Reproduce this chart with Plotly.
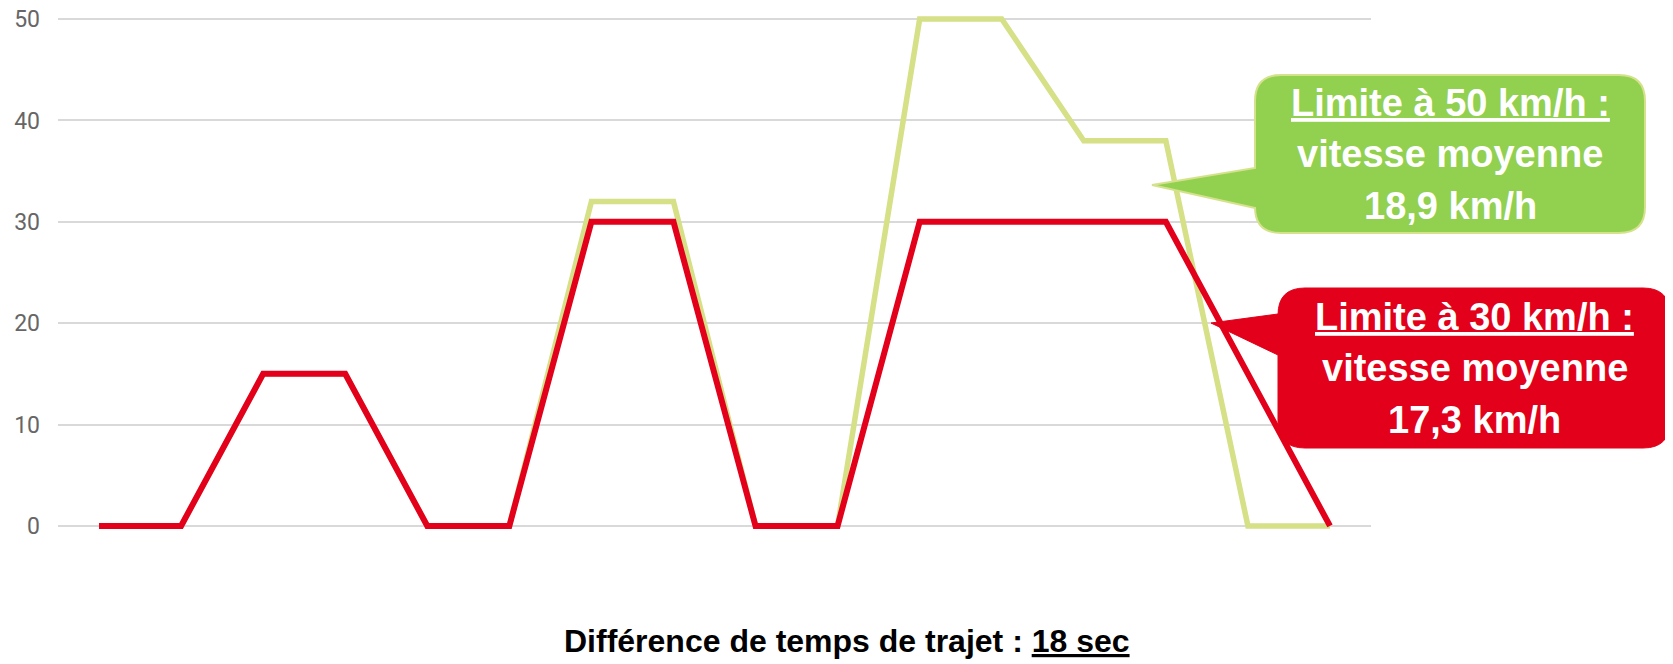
import plotly.graph_objects as go

# ---- data ----
etapes = [str(i) for i in range(1, 17)]
vitesse_50 = [0, 0, 15, 15, 0, 0, 32, 32, 0, 0, 50, 50, 38, 38, 0, 0]
vitesse_30 = [0, 0, 15, 15, 0, 0, 30, 30, 0, 0, 30, 30, 30, 30, 15, 0]
y_ticks = [0, 10, 20, 30, 40, 50]

lignes_50 = ["<u>Limite à 50 km/h :</u>", "vitesse moyenne", "18,9 km/h"]
lignes_30 = ["<u>Limite à 30 km/h :</u>", "vitesse moyenne", "17,3 km/h"]
texte_bas = "Différence de temps de trajet : <u>18 sec</u>"

# ---- layout geometry ----
# positions below are given in window pixels; the page body has an 8 px margin
W, H = 1673, 664
OFF = 8
PX0, PX1 = 58, 1371      # plot area in window pixels
PY0, PY1 = 14, 531
ML, MT = PX0 - OFF, PY0 - OFF
MR, MB = W - (PX1 - OFF), H - (PY1 - OFF)


def px(x):
    return (x - PX0) / (PX1 - PX0)


def py(y):
    return (PY1 - y) / (PY1 - PY0)


def callout_path(x0, y0, x1, y1, r, pb0, tip, pb1):
    # rounded rectangle with a pointer on its left edge
    path = f"M {px(x0 + r)},{py(y0)} L {px(x1 - r)},{py(y0)} "
    path += f"Q {px(x1)},{py(y0)} {px(x1)},{py(y0 + r)} "
    path += f"L {px(x1)},{py(y1 - r)} Q {px(x1)},{py(y1)} {px(x1 - r)},{py(y1)} "
    path += f"L {px(x0 + r)},{py(y1)} Q {px(x0)},{py(y1)} {px(x0)},{py(y1 - r)} "
    path += f"L {px(x0)},{py(pb1)} L {px(tip[0])},{py(tip[1])} L {px(x0)},{py(pb0)} "
    path += f"L {px(x0)},{py(y0 + r)} Q {px(x0)},{py(y0)} {px(x0 + r)},{py(y0)} Z"
    return path


fig = go.Figure()
fig.add_trace(go.Scatter(
    x=etapes, y=vitesse_50, mode="lines",
    line=dict(color="#D5E087", width=5.5), name="50 km/h",
))
fig.add_trace(go.Scatter(
    x=etapes, y=vitesse_30, mode="lines",
    line=dict(color="#E2001A", width=6), name="30 km/h",
))

fig.add_shape(type="path", xref="paper", yref="paper", layer="above",
              path=callout_path(1255, 75, 1645, 233, 26, 168, (1152, 185), 208),
              fillcolor="#92D050", line=dict(color="#D5E28C", width=2))
fig.add_shape(type="path", xref="paper", yref="paper", layer="above",
              path=callout_path(1278, 288, 1670, 448, 27, 314, (1211, 323), 355),
              fillcolor="#E2001A", line=dict(color="#E2001A", width=1))

callout_font = dict(family="Liberation Sans, Arial", size=38, color="white",
                    weight="bold")
for i, t in enumerate(lignes_50):
    fig.add_annotation(xref="paper", yref="paper", x=px(1450),
                       y=py(102.5 + 51.7 * i), xanchor="center", yanchor="middle",
                       showarrow=False, text=t, font=callout_font)
for i, t in enumerate(lignes_30):
    fig.add_annotation(xref="paper", yref="paper", x=px(1474.5),
                       y=py(316.7 + 51.7 * i), xanchor="center", yanchor="middle",
                       showarrow=False, text=t, font=callout_font)

fig.add_annotation(xref="paper", yref="paper", x=px(846.5), y=py(641),
                   xanchor="center", yanchor="middle", showarrow=False,
                   text=texte_bas,
                   font=dict(family="Liberation Sans, Arial",
                             size=32, color="black", weight="bold"))

fig.update_layout(
    width=W, height=H,
    margin=dict(l=ML, r=MR, t=MT, b=MB, autoexpand=False),
    paper_bgcolor="white", plot_bgcolor="white",
    showlegend=False,
    xaxis=dict(type="category", range=[-0.5, 15.5], showticklabels=False,
               showgrid=False, zeroline=False, showline=False, ticks=""),
    yaxis=dict(range=[-0.5, 50.5], tickvals=y_ticks, showgrid=True,
               gridcolor="#D9D9D9", gridwidth=1.5, zeroline=False,
               showline=False, ticks="", ticklabelstandoff=17,
               ticklabeloverflow="allow",
               tickfont=dict(family="Roboto", size=23, color="#666666")),
)

fig.write_html("out.html")
